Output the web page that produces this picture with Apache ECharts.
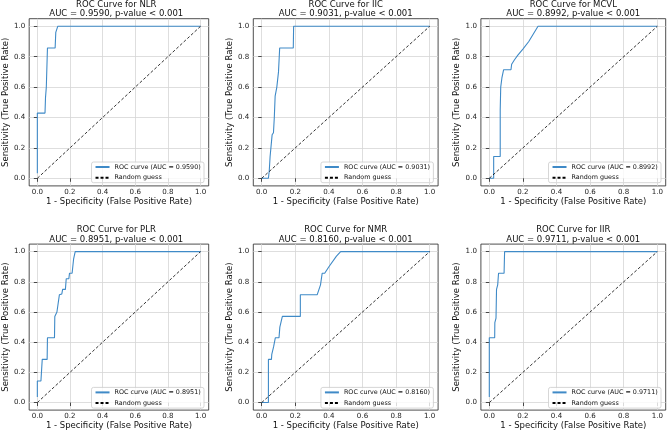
<!DOCTYPE html>
<html>
<head>
<meta charset="utf-8">
<script src="https://cdn.jsdelivr.net/npm/echarts@6/dist/echarts.min.js"></script>
<style>html,body{margin:0;padding:0;background:#fff}#c{width:669px;height:431px}</style>
</head>
<body>
<div id="c"></div>
<script>
// ---- data ----
const markers = ['NLR', 'IIC', 'MCVL', 'PLR', 'NMR', 'IIR'];
const aucs = ['0.9590', '0.9031', '0.8992', '0.8951', '0.8160', '0.9711'];
const pText = 'p-value < 0.001';
const tickValues = [0, 0.2, 0.4, 0.6, 0.8, 1.0];
const diagX = [0, 1];
const diagY = [0, 1];

const nlrFpr = [0, 0, 0.047, 0.05, 0.055, 0.062, 0.109, 0.113, 0.125, 1];
const nlrTpr = [0.033, 0.429, 0.429, 0.53, 0.6, 0.857, 0.857, 0.96, 1.0, 1.0];

const iicFpr = [0, 0.04, 0.045, 0.05, 0.058, 0.062, 0.07, 0.075, 0.08, 0.09, 0.1, 0.107, 0.188, 0.19, 1];
const iicTpr = [0, 0, 0.05, 0.143, 0.143, 0.286, 0.3, 0.4, 0.54, 0.6, 0.7, 0.857, 0.857, 1.0, 1.0];

const mcvlFpr = [0, 0.026, 0.026, 0.065, 0.065, 0.068, 0.075, 0.085, 0.129, 0.133, 0.15, 0.17, 0.2, 0.235, 0.29, 1];
const mcvlTpr = [0, 0, 0.143, 0.143, 0.45, 0.6, 0.66, 0.714, 0.714, 0.75, 0.78, 0.81, 0.85, 0.9, 1.0, 1.0];

const plrFpr = [0, 0, 0.022, 0.03, 0.06, 0.062, 0.105, 0.107, 0.12, 0.135, 0.15, 0.155, 0.172, 0.177, 0.193, 0.197, 0.213, 0.222, 0.232, 1];
const plrTpr = [0.037, 0.143, 0.143, 0.286, 0.286, 0.429, 0.429, 0.571, 0.6, 0.714, 0.72, 0.75, 0.75, 0.82, 0.82, 0.857, 0.857, 0.95, 1.0, 1.0];

const nmrFpr = [0, 0.04, 0.04, 0.058, 0.06, 0.071, 0.081, 0.103, 0.108, 0.123, 0.23, 0.23, 0.33, 0.35, 0.36, 0.375, 0.4, 0.445, 0.47, 1];
const nmrTpr = [0, 0, 0.286, 0.286, 0.32, 0.37, 0.429, 0.429, 0.5, 0.571, 0.571, 0.714, 0.714, 0.78, 0.857, 0.857, 0.9, 0.97, 1.0, 1.0];

const iirFpr = [0, 0, 0.032, 0.033, 0.04, 0.043, 0.05, 0.055, 0.088, 0.091, 1];
const iirTpr = [0.037, 0.429, 0.429, 0.53, 0.56, 0.75, 0.78, 0.857, 0.857, 1.0, 1.0];

const fprs = [nlrFpr, iicFpr, mcvlFpr, plrFpr, nmrFpr, iirFpr];
const tprs = [nlrTpr, iicTpr, mcvlTpr, plrTpr, nmrTpr, iirTpr];

// ---- layout ----
const FONT = 'DejaVu Sans';
const lefts = [23.9, 253.3, 480.9, 23.9, 253.3, 480.9];
const tops = [18.7, 18.7, 18.7, 244.1, 244.1, 244.1];
const GW = 184.8, GH = 167.2;
const W = 669, H = 431;
const BLUE = '#3f8ac7';

const grid = [], xAxis = [], yAxis = [], series = [], legend = [], title = [];
for (let i = 0; i < 6; i++) {
  grid.push({left: lefts[i], top: tops[i], width: GW, height: GH, show: true,
    borderColor: '#222', borderWidth: 0.8, backgroundColor: 'transparent', containLabel: false});
  const axisCommon = {
    gridIndex: i, type: 'value', min: -0.05, max: 1.05,
    axisLine: {show: false},
    axisTick: {show: true, length: 3.5, lineStyle: {color: '#222', width: 0.8}, customValues: tickValues},
    axisLabel: {customValues: tickValues, color: '#222', fontFamily: FONT, fontSize: 7.1,
      formatter: v => v.toFixed(1)},
    splitLine: {show: true, lineStyle: {color: '#d6d6d6', width: 0.8}},
    nameLocation: 'middle',
    nameTextStyle: {fontFamily: FONT, fontSize: 8.5, color: '#111'}
  };
  xAxis.push(Object.assign({}, axisCommon, {
    name: '1 - Specificity (False Positive Rate)', nameGap: 10.5,
    axisLabel: Object.assign({}, axisCommon.axisLabel, {margin: 3})
  }));
  yAxis.push(Object.assign({}, axisCommon, {
    name: 'Sensitivity (True Positive Rate)', nameGap: 15.5,
    axisLabel: Object.assign({}, axisCommon.axisLabel, {margin: 4})
  }));
  const rocName = 'ROC curve (AUC = ' + aucs[i] + ')';
  series.push({
    type: 'line', name: rocName, xAxisIndex: i, yAxisIndex: i,
    data: fprs[i].map((x, k) => [x, tprs[i][k]]),
    showSymbol: false, symbol: 'none', silent: true,
    lineStyle: {color: BLUE, width: 1.1}, itemStyle: {color: BLUE}, z: 2
  });
  series.push({
    type: 'line', name: 'Random guess', xAxisIndex: i, yAxisIndex: i,
    data: diagX.map((x, k) => [x, diagY[k]]),
    showSymbol: false, symbol: 'none', silent: true,
    lineStyle: {color: '#000', width: 0.8, type: [3, 2]}, itemStyle: {color: '#000'}, z: 3
  });
  legend.push({
    data: [rocName, 'Random guess'], orient: 'vertical',
    right: W - (lefts[i] + GW - 4.7), bottom: H - (tops[i] + GH - 3.2),
    itemWidth: 14, itemHeight: 6, itemGap: 4.7,
    padding: [2, 3.3, 2, 3], backgroundColor: 'rgba(255,255,255,0.8)',
    borderColor: '#cccccc', borderWidth: 0.8, borderRadius: 2,
    itemStyle: {opacity: 0, borderWidth: 0},
    textStyle: {fontFamily: FONT, fontSize: 6.4, color: '#111'},
    selectedMode: false
  });
  title.push({
    text: 'ROC Curve for ' + markers[i] + '\n' + 'AUC = ' + aucs[i] + ', ' + pText,
    left: lefts[i] + GW / 2, top: tops[i] - 19.2, textAlign: 'center', padding: 0,
    textStyle: {fontFamily: FONT, fontSize: 8.5, fontWeight: 'normal', color: '#111', lineHeight: 9.6}
  });
}

const chart = echarts.init(document.getElementById('c'), null, {renderer: 'canvas'});
chart.setOption({
  animation: false, backgroundColor: '#fff',
  title, grid, xAxis, yAxis, series, legend
});
</script>
</body>
</html>
